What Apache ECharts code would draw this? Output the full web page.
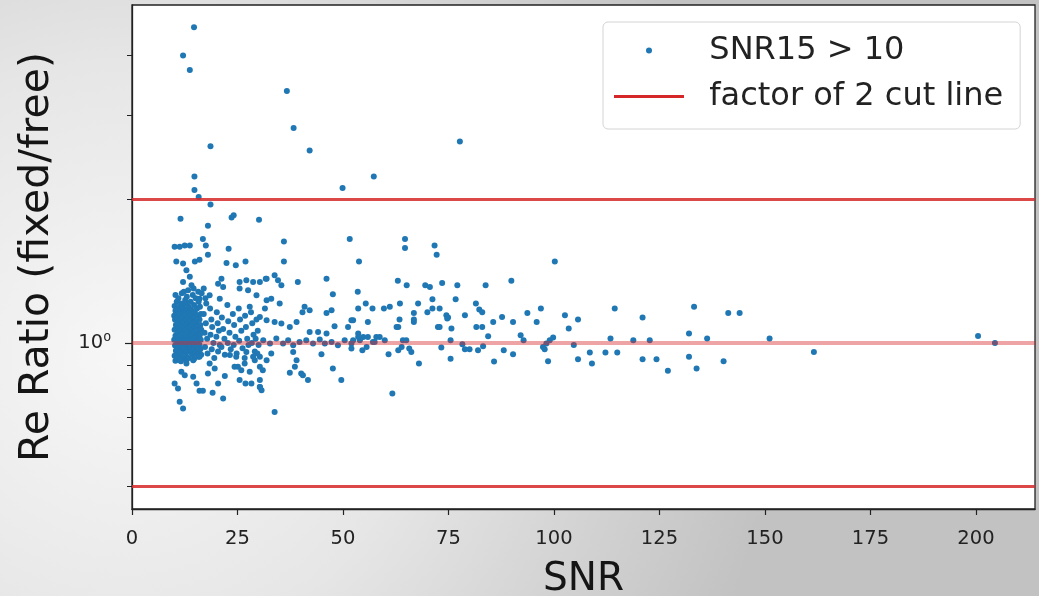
<!DOCTYPE html>
<html><head><meta charset="utf-8">
<script src="https://cdn.jsdelivr.net/npm/echarts@6/dist/echarts.min.js"></script>
<style>html,body{margin:0;padding:0;background:#ddd;} #c{width:1039px;height:596px;}</style>
</head><body><div id="c"></div>
<script>
const scatterName = 'SNR15 > 10';
const lineName = 'factor of 2 cut line';
const xTitle = 'SNR';
const yTitle = 'Re Ratio (fixed/free)';
const xTickValues = [0, 25, 50, 75, 100, 125, 150, 175, 200];
const yMajorTicks = [1];
const yMinorTicks = [0.5, 0.6, 0.7, 0.8, 0.9, 2, 3, 4];
const cutLines = [2, 0.5];
const unityLine = [1];
// [SNR, Re ratio]
const points = [
[14.7,4.58],[12.1,4.00],[13.7,3.73],[36.7,3.37],[38.3,2.82],[42.1,2.53],[18.6,2.58],[14.8,2.23],[14.8,2.09],[15.8,2.02],[49.9,2.11],[57.3,2.23],[77.7,2.64],
[18.6,1.95],[11.5,1.82],[18.0,1.76],[23.6,1.83],[24.1,1.85],[30.1,1.81],[16.8,1.65],[17.5,1.60],[36.0,1.63],
[10.1,1.59],[11.3,1.59],[12.5,1.60],[13.7,1.60],[64.7,1.65],[64.7,1.58],[71.7,1.60],[72.2,1.53],[51.6,1.65],[53.8,1.48],[100.2,1.48],[36.0,1.48],[22.9,1.575],[18.0,1.53],
[10.5,1.48],[12.1,1.466],[14.9,1.48],[16.0,1.494],[22.4,1.47],[24.6,1.454],[26.9,1.48],
[12.9,1.42],[13.7,1.375],[12.1,1.342],[14.1,1.32],[13.3,1.289],[21.2,1.363],[20.4,1.33],[21.6,1.31],
[25.5,1.342],[27.1,1.353],[28.7,1.342],[30.3,1.342],[31.9,1.363],[25.5,1.30],[27.5,1.289],[29.5,1.258],
[16.0,1.238],[18.4,1.258],[20.8,1.238],[17.6,1.209],[27.9,1.19],[31.9,1.228],
[31.7,1.363],[33.8,1.385],[34.6,1.353],[35.4,1.32],[39.3,1.342],[46.1,1.363],[47.6,1.264],
[33.0,1.238],[31.5,1.18],[35.0,1.21],[40.9,1.19],[42.1,1.17],[40.4,1.16],[46.1,1.155],[47.3,1.17],
[53.5,1.28],[53.6,1.18],[55.4,1.209],[57.0,1.18],
[30.3,1.133],[31.9,1.116],[33.8,1.106],[35.4,1.098],[37.4,1.08],[39.0,1.106],
[42.1,1.054],[44.1,1.054],[46.1,1.046],[48.0,1.084],
[51.2,1.08],[52.4,1.116],[55.9,1.106],[53.6,1.046],[54.8,1.029],[57.9,1.029],
[31.1,1.013],[32.7,0.997],[34.2,1.021],[35.8,0.997],[37.0,1.013],[38.2,0.989],[39.7,1.005],[41.3,1.013],[42.9,0.997],[44.5,1.017],[45.7,0.997],[47.3,1.005],[48.8,0.989],[50.4,1.013],[52.0,0.997],[54.0,1.013],[55.6,0.98],[57.1,1.005],
[30.3,0.935],[31.9,0.92],[33.0,0.95],[38.2,0.957],[39.0,0.92],[38.6,0.891],[44.9,0.947],[47.6,0.884],[49.6,0.836],
[37.4,0.866],[40.1,0.863],[41.7,0.836],[40.5,0.856],[30.3,0.836],[30.3,0.809],[30.7,0.796],[33.8,0.717],
[63.0,1.35],[65.1,1.32],[69.5,1.32],[70.6,1.31],[73.5,1.335],[77.1,1.32],[83.8,1.32],[89.9,1.35],[71.2,1.234],[76.7,1.234],[59.7,1.18],[61.1,1.19],[63.5,1.209],[67.8,1.209],[66.8,1.155],[70.0,1.16],[71.2,1.18],[72.9,1.18],[74.5,1.143],[74.9,1.13],[81.5,1.209],[82.3,1.175],[83.0,1.16],[78.9,1.143],[52.0,1.116],[63.4,1.12],[63.1,1.08],[66.8,1.106],[66.8,1.12],[74.7,1.125],[72.5,1.08],[72.9,1.08],[75.7,1.072],[62.7,1.08],[81.6,1.08],[83.0,1.08],[85.6,1.106],[87.7,1.133],[90.3,1.106],[93.7,1.155],[95.9,1.106],[96.9,1.18],[102.6,1.143],[105.7,1.12],[103.5,1.072],[114.4,1.18],[121.0,1.13],[133.2,1.19],[141.3,1.155],[144.0,1.155],[132.0,1.046],[132.0,0.935],[133.8,0.884],[127.0,0.874],[124.3,0.924],[121.0,0.924],[122.7,1.013],[118.8,1.013],[113.4,1.021],[136.3,1.021],[151.1,1.021],[140.2,0.915],[161.6,0.957],[200.5,1.034],[204.5,1.0],[112.2,0.955],[115.0,0.955],[109.0,0.906],[108.5,0.955],[105.7,0.924],[104.7,0.99],[98.6,0.915],[97.4,0.98],[98.2,0.997],[99.0,1.013],[99.8,1.026],[92.8,1.013],[92.1,1.038],[90.3,0.947],[88.1,0.965],[85.8,0.914],[82.0,0.965],[80.0,0.97],[78.9,0.97],[78.3,0.994],[75.5,1.013],[75.5,0.926],[73.3,0.978],[68.0,0.906],[66.2,0.957],[65.7,0.973],[64.2,1.013],[63.9,0.98],[63.1,0.965],[60.8,0.947],[61.7,0.784],[59.9,1.013],[58.7,1.029],[57.5,1.005],[55.9,1.029],[54.6,0.965],[53.6,1.029],[52.4,1.013],[52.0,0.973],[83.2,0.984],[84.4,1.033],[65.0,1.013],[97.8,0.97],
[10.1,1.195],[10.3,1.168],[10.0,1.14],[10.2,1.118],[10.4,1.09],[10.1,1.065],[10.3,1.035],[10.0,1.015],[10.2,0.988],[10.4,0.963],[10.1,0.94],[10.3,0.918],
[10.8,1.18],[11.0,1.15],[10.7,1.125],[10.9,1.1],[11.1,1.075],[10.8,1.05],[11.0,1.02],[10.7,0.995],[10.9,0.975],[11.1,0.95],[10.8,0.93],
[11.4,1.2],[11.6,1.17],[11.3,1.145],[11.5,1.115],[11.7,1.088],[11.4,1.06],[11.6,1.04],[11.3,1.01],[11.5,0.985],[11.7,0.96],[11.4,0.935],[11.6,0.915],
[12.1,1.185],[12.3,1.155],[12.0,1.13],[12.2,1.105],[12.4,1.08],[12.1,1.055],[12.3,1.025],[12.0,1.0],[12.2,0.978],[12.4,0.955],[12.1,0.93],
[12.7,1.21],[12.9,1.17],[12.6,1.14],[12.8,1.12],[13.0,1.09],[12.7,1.065],[12.9,1.035],[12.6,1.012],[12.8,0.99],[13.0,0.965],[12.7,0.942],[12.9,0.92],
[13.4,1.19],[13.6,1.16],[13.3,1.13],[13.5,1.1],[13.7,1.078],[13.4,1.05],[13.6,1.028],[13.3,1.005],[13.5,0.98],[13.7,0.957],[13.4,0.93],
[14.0,1.175],[14.2,1.145],[13.9,1.115],[14.1,1.09],[14.3,1.06],[14.0,1.04],[14.2,1.015],[13.9,0.99],[14.1,0.968],[14.3,0.945],
[14.7,1.2],[14.9,1.16],[14.6,1.13],[14.8,1.105],[15.0,1.08],[14.7,1.05],[14.9,1.025],[14.6,1.0],[14.8,0.975],[15.0,0.95],[14.7,0.925],
[15.4,1.18],[15.6,1.14],[15.3,1.11],[15.5,1.085],[15.7,1.06],[15.4,1.035],[15.6,1.01],[15.3,0.985],[15.5,0.96],[15.7,0.935],
[16.1,1.19],[16.3,1.15],[16.0,1.12],[16.2,1.09],[16.4,1.065],[16.1,1.04],[16.3,1.015],[16.0,0.99],[16.2,0.97],[16.4,0.945],
[10.3,1.26],[11.0,1.24],[11.8,1.27],[12.6,1.23],[13.0,1.25],[14.4,1.26],[15.1,1.24],[15.8,1.22],[10.6,1.22],[11.6,1.21],[12.3,1.28],[13.9,1.22],[14.6,1.30],[15.7,1.28],[16.5,1.27],[17.0,1.3],[17.4,1.24],
[17.0,1.15],[17.5,1.10],[17.2,1.05],[17.8,1.02],[17.3,0.98],[17.9,0.95],[18.5,1.18],[18.8,1.12],[19.0,1.08],[18.6,1.04],[19.3,1.0],[18.9,0.97],[19.5,0.93],[20.1,1.16],[20.3,1.1],[20.6,1.06],[20.0,1.03],[20.8,0.99],[20.4,0.96],[21.3,1.13],[21.6,1.07],[21.9,1.02],[21.2,0.98],[22.0,0.945],[22.6,1.2],[22.8,1.11],[23.1,1.05],[22.7,1.0],[23.4,0.97],[23.9,1.15],[24.2,1.09],[24.5,1.03],[24.1,0.99],[24.8,0.95],[25.3,1.18],[25.6,1.12],[25.9,1.06],[25.4,1.01],[26.2,0.975],[26.8,1.14],[27.0,1.08],[27.3,1.02],[27.6,0.99],[26.7,0.93],[28.2,1.16],[28.5,1.1],[28.8,1.04],[28.4,1.0],[29.1,0.96],[29.5,1.12],[29.8,1.06],[29.3,1.02],[30.0,0.99],[29.7,0.95],
[10.1,0.822],[10.9,0.803],[11.7,0.87],[12.5,0.856],[14.5,0.849],[15.3,0.822],[16.0,0.794],[16.8,0.794],[19.1,0.786],[18.0,0.863],[20.4,0.822],[22.0,0.853],[21.6,0.765],[11.3,0.753],[12.1,0.729],[25.5,0.836],[28.3,0.822],[30.3,0.809],[25.1,0.891],[26.7,0.906],[29.1,0.92],[30.3,0.891],[18.4,0.906],[19.6,0.884],[16.0,0.935],[14.5,0.92],[12.9,0.906],[11.3,0.92],[24.3,0.891],[25.9,0.877],[27.9,0.87],[31.0,0.877],[23.2,0.943],[24.7,0.935],[27.1,0.957],[28.7,0.935],[26.9,0.822]
];

const SUP = {'0':'⁰','1':'¹','2':'²','3':'³','4':'⁴','5':'⁵','6':'⁶','7':'⁷','8':'⁸','9':'⁹','-':'⁻'};
function logLabel(v) {
  const e = String(Math.round(Math.log10(v)));
  return '10' + e.split('').map(c => SUP[c]).join('');
}

const FONT = 'DejaVu Sans';
const chart = echarts.init(document.getElementById('c'));
chart.setOption({
  animation: false,
  backgroundColor: {type: 'radial', x: 0.12, y: 0.6, r: 1.1,
    colorStops: [{offset: 0, color: '#f7f7f7'}, {offset: 0.45, color: '#e6e6e6'}, {offset: 1, color: '#c2c2c2'}]},
  textStyle: {fontFamily: FONT},
  grid: {left: 132, right: 4, top: 5, bottom: 87, containLabel: false, outerBoundsMode: 'none',
    show: true, backgroundColor: '#ffffff', borderColor: '#222', borderWidth: 1.3},
  legend: {
    orient: 'vertical', left: 603, top: 22, padding: [10, 17, 14, 11],
    itemWidth: 70, itemHeight: 6, itemGap: 9,
    backgroundColor: 'rgba(255,255,255,0.85)', borderColor: '#d4d4d4', borderWidth: 1, borderRadius: 5,
    textStyle: {fontSize: 32, color: '#222', fontFamily: FONT, lineHeight: 37},
    formatter: n => '  ' + n,
    data: [{name: scatterName, icon: 'circle'}, {name: lineName, icon: 'path://M0 0H70V3H0Z'}]
  },
  xAxis: {
    type: 'value', min: 0, max: 214, interval: 25,
    name: xTitle, nameLocation: 'middle', nameGap: 51,
    nameTextStyle: {fontSize: 39, color: '#151515', fontFamily: FONT},
    axisLine: {lineStyle: {color: '#222', width: 1.3}},
    axisTick: {customValues: xTickValues, length: 6, lineStyle: {color: '#222', width: 1.2}},
    axisLabel: {customValues: xTickValues, fontSize: 19.5, color: '#222', margin: 20, fontFamily: FONT},
    splitLine: {show: false}
  },
  yAxis: [{
    type: 'log', logBase: 10, min: 0.449, max: 5.1, position: 'left',
    name: yTitle, nameLocation: 'middle', nameGap: 74,
    nameTextStyle: {fontSize: 41, color: '#151515', fontFamily: FONT},
    axisLine: {show: true, lineStyle: {color: '#222', width: 1.3}},
    axisTick: {customValues: yMajorTicks, length: 7, lineStyle: {color: '#222', width: 1.2}},
    axisLabel: {customValues: yMajorTicks, formatter: logLabel, fontSize: 19.5, color: '#222', margin: 21, fontFamily: FONT},
    splitLine: {show: false}, minorTick: {show: false}
  }, {
    type: 'log', logBase: 10, min: 0.449, max: 5.1, position: 'left',
    axisLine: {show: false},
    axisTick: {customValues: yMinorTicks, length: 5, lineStyle: {color: '#222', width: 1}},
    axisLabel: {show: false},
    splitLine: {show: false}
  }],
  series: [{
    name: scatterName, type: 'scatter', data: points, symbolSize: 6, z: 2,
    itemStyle: {color: '#1f77b4', opacity: 1}, emphasis: {disabled: true}
  }, {
    name: lineName, type: 'line', data: [], symbol: 'none', z: 5, color: '#d62728',
    lineStyle: {color: '#d62728', width: 3},
    markLine: {
      silent: true, symbol: ['none', 'none'], label: {show: false}, animation: false,
      data: cutLines.map(v => ({yAxis: v, lineStyle: {color: 'rgba(214,39,40,0.85)', width: 3, type: 'solid'}}))
        .concat(unityLine.map(v => ({yAxis: v, lineStyle: {color: 'rgba(214,39,40,0.42)', width: 4, type: 'solid'}})))
    }
  }]
});
</script>
</body></html>
